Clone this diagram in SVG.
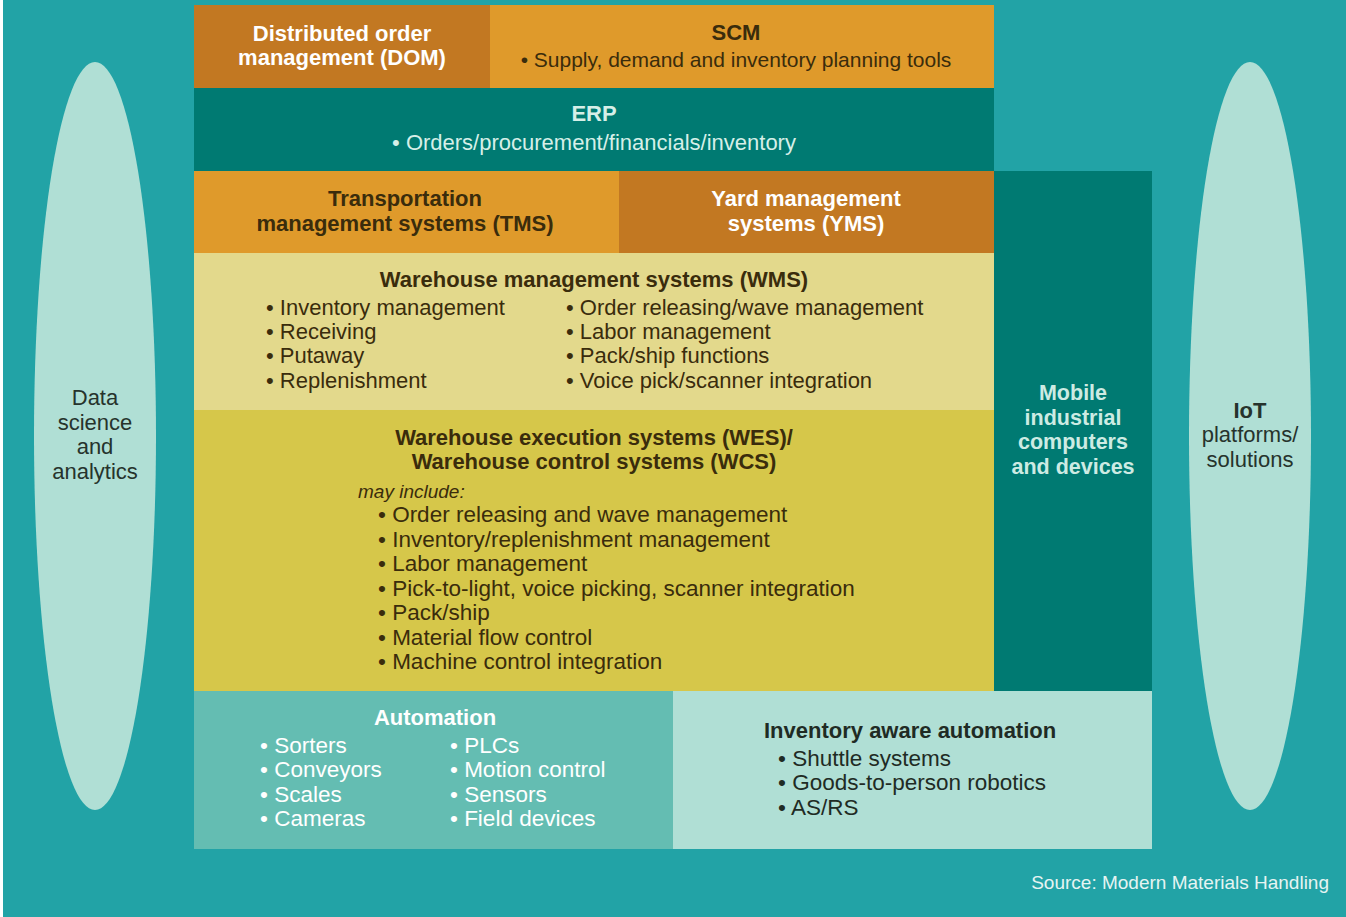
<svg xmlns="http://www.w3.org/2000/svg" width="1346" height="917" viewBox="0 0 1346 917">
  <style>
    .t { font-family: "Liberation Sans", Arial, sans-serif; font-size: 22px; }
    .b { font-family: "Liberation Sans", Arial, sans-serif; font-size: 22px; font-weight: bold; }
    .c { text-anchor: middle; }
    .li { font-size: 22.5px; }
    .dark { fill: #3a2c0c; }
    .white { fill: #ffffff; }
    .mint { fill: #d6efe8; }
    .deep { fill: #1f2b24; }
    .oval { fill: #b0dfd5; }
  </style>

  <!-- background -->
  <rect x="0" y="0" width="1346" height="917" fill="#ffffff"/>
  <rect x="3" y="0" width="1343" height="917" fill="#22a3a6"/>

  <!-- side ovals -->
  <g id="data-science">
    <ellipse class="oval" cx="95" cy="436" rx="61" ry="374"/>
    <text class="t c" fill="#26332c" x="95" y="405">Data</text>
    <text class="t c" fill="#26332c" x="95" y="430">science</text>
    <text class="t c" fill="#26332c" x="95" y="454">and</text>
    <text class="t c" fill="#26332c" x="95" y="479">analytics</text>
  </g>

  <g id="iot">
    <ellipse class="oval" cx="1250" cy="436" rx="61" ry="374"/>
    <text class="b c" fill="#26332c" x="1250" y="418">IoT</text>
    <text class="t c" fill="#26332c" x="1250" y="442">platforms/</text>
    <text class="t c" fill="#26332c" x="1250" y="467">solutions</text>
  </g>

  <!-- stack of systems -->
  <g id="dom">
    <rect x="194" y="5" width="296" height="83" fill="#c27822"/>
    <text class="b c white" x="342" y="41">Distributed order</text>
    <text class="b c white" x="342" y="65">management (DOM)</text>
  </g>

  <g id="scm">
    <rect x="490" y="5" width="504" height="83" fill="#df9a2b"/>
    <text class="b c dark" x="736" y="40">SCM</text>
    <text class="t c dark" x="736" y="67" style="font-size:21px">• Supply, demand and inventory planning tools</text>
  </g>

  <g id="erp">
    <rect x="194" y="88" width="800" height="83" fill="#007a72"/>
    <text class="b c mint" x="594" y="121">ERP</text>
    <text class="t c mint" x="594" y="150">• Orders/procurement/financials/inventory</text>
  </g>

  <g id="tms">
    <rect x="194" y="171" width="425" height="82" fill="#df9a2b"/>
    <text class="b c dark" x="405" y="206">Transportation</text>
    <text class="b c dark" x="405" y="231">management systems (TMS)</text>
  </g>

  <g id="yms">
    <rect x="619" y="171" width="375" height="82" fill="#c27822"/>
    <text class="b c white" x="806" y="206">Yard management</text>
    <text class="b c white" x="806" y="231">systems (YMS)</text>
  </g>

  <g id="wms">
    <rect x="194" y="253" width="800" height="157" fill="#e3d98c"/>
    <text class="b c dark" x="594" y="287">Warehouse management systems (WMS)</text>
    <text class="t dark" x="266" y="315">• Inventory management</text>
    <text class="t dark" x="266" y="339">• Receiving</text>
    <text class="t dark" x="266" y="363">• Putaway</text>
    <text class="t dark" x="266" y="388">• Replenishment</text>
    <text class="t dark" x="566" y="315">• Order releasing/wave management</text>
    <text class="t dark" x="566" y="339">• Labor management</text>
    <text class="t dark" x="566" y="363">• Pack/ship functions</text>
    <text class="t dark" x="566" y="388">• Voice pick/scanner integration</text>
  </g>

  <g id="wes-wcs">
    <rect x="194" y="410" width="800" height="281" fill="#d6c74a"/>
    <text class="b c dark" x="594" y="445">Warehouse execution systems (WES)/</text>
    <text class="b c dark" x="594" y="469">Warehouse control systems (WCS)</text>
    <text class="t dark" x="358" y="498" style="font-size:19px;font-style:italic">may include:</text>
    <text class="t li dark" x="378" y="522">• Order releasing and wave management</text>
    <text class="t li dark" x="378" y="547">• Inventory/replenishment management</text>
    <text class="t li dark" x="378" y="571">• Labor management</text>
    <text class="t li dark" x="378" y="596">• Pick-to-light, voice picking, scanner integration</text>
    <text class="t li dark" x="378" y="620">• Pack/ship</text>
    <text class="t li dark" x="378" y="645">• Material flow control</text>
    <text class="t li dark" x="378" y="669">• Machine control integration</text>
  </g>

  <g id="mobile">
    <rect x="994" y="171" width="158" height="520" fill="#007a72"/>
    <text class="b c" fill="#cdebe3" x="1073" y="400" style="font-size:21.5px">Mobile</text>
    <text class="b c" fill="#cdebe3" x="1073" y="425" style="font-size:21.5px">industrial</text>
    <text class="b c" fill="#cdebe3" x="1073" y="449" style="font-size:21.5px">computers</text>
    <text class="b c" fill="#cdebe3" x="1073" y="474" style="font-size:21.5px">and devices</text>
  </g>

  <g id="automation">
    <rect x="194" y="691" width="479" height="158" fill="#64bdb2"/>
    <text class="b c white" x="435" y="725">Automation</text>
    <text class="t li white" x="260" y="753">• Sorters</text>
    <text class="t li white" x="260" y="777">• Conveyors</text>
    <text class="t li white" x="260" y="802">• Scales</text>
    <text class="t li white" x="260" y="826">• Cameras</text>
    <text class="t li white" x="450" y="753">• PLCs</text>
    <text class="t li white" x="450" y="777">• Motion control</text>
    <text class="t li white" x="450" y="802">• Sensors</text>
    <text class="t li white" x="450" y="826">• Field devices</text>
  </g>

  <g id="inventory-aware">
    <rect x="673" y="691" width="479" height="158" fill="#b0dfd5"/>
    <text class="b deep" x="764" y="738">Inventory aware automation</text>
    <text class="t li deep" x="778" y="766">• Shuttle systems</text>
    <text class="t li deep" x="778" y="790">• Goods-to-person robotics</text>
    <text class="t li deep" x="778" y="815">• AS/RS</text>
  </g>

  <!-- no connectors in this layered chart -->
  <g id="connectors"/>

  <text class="t" fill="#e6f4f2" x="1329" y="889" text-anchor="end" style="font-size:19px">Source: Modern Materials Handling</text>
</svg>
